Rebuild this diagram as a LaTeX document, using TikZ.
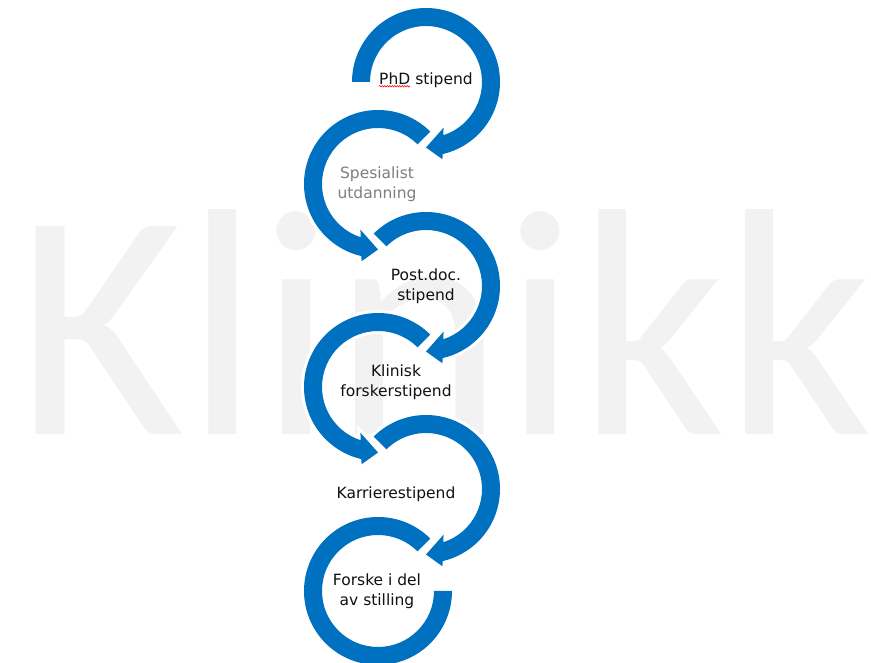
\documentclass[tikz,border=0pt]{standalone}
\usepackage{fontspec}
\setmainfont{DejaVu Sans}
\newfontfamily\wmfont{Carlito}
\usepackage{tikz}
\usetikzlibrary{calc,decorations.pathmorphing}
\definecolor{ringblue}{HTML}{0070C0}
\definecolor{wmgray}{HTML}{F2F2F2}
\definecolor{lblgray}{HTML}{7F7F7F}
\definecolor{lbldark}{HTML}{111111}
% ring pieces, start angle as argument
\newcommand{\cwring}[1]{(#1:74) arc[start angle=#1,end angle=-77,radius=74]
  -- (-78:79) -- (-90:65.5) -- (-69:49) -- (-72:56)
  arc[start angle=-72,end angle=#1,radius=56] -- cycle}
\newcommand{\ccwring}[1]{(#1:74) arc[start angle=#1,end angle=257,radius=74]
  -- (258:79) -- (270:65.5) -- (249:49) -- (252:56)
  arc[start angle=252,end angle=#1,radius=56] -- cycle}
\newcommand{\lastring}{(45:74) arc[start angle=45,end angle=360,radius=74]
  -- (0:56) arc[start angle=360,end angle=45,radius=56] -- cycle}

\begin{document}
\begin{tikzpicture}[x=1pt,y=1pt,
  ring/.style={fill=ringblue,preaction={draw=white,line width=6}},
  lbl/.style={font=\fontsize{15.5}{19.5}\selectfont,align=center,
    text=lbldark,inner sep=0pt},
  wm/.style={font=\wmfont\fontsize{324}{324}\selectfont,text=wmgray,
    inner sep=0pt,anchor=base}]
\fill[white] (0,0) rectangle (871,663);
\useasboundingbox (0,0) rectangle (871,663);
\node[wm] (word) at (445,228) {Klinikk};
% rings, bottom one first
\path[ring,shift={(378,72)}] \lastring;
\path[ring,shift={(426,174)}] \cwring{135};
\path[ring,shift={(378,276)}] \ccwring{45};
\path[ring,shift={(426,377)}] \cwring{135};
\path[ring,shift={(378,479)}] \ccwring{45};
\path[ring,shift={(426,581)}] \cwring{180};
\node[lbl] (phd) at (426,583) {PhD stipend};
\node[lbl,text=lblgray] (spes) at (377,479) {Spesialist\\utdanning};
\node[lbl] (post) at (426,377) {Post.doc.\\stipend};
\node[lbl] (klin) at (396,281) {Klinisk\\forskerstipend};
\node[lbl] (karr) at (396,169) {Karrierestipend};
\node[lbl] (forske) at (377,72) {Forske i del\\av stilling};
\draw[red,line width=0.6,decorate,
  decoration={snake,amplitude=0.7,segment length=2.5}]
  ($(phd.base west)+(0,-2)$) -- ++(31,0);
\end{tikzpicture}
\end{document}
